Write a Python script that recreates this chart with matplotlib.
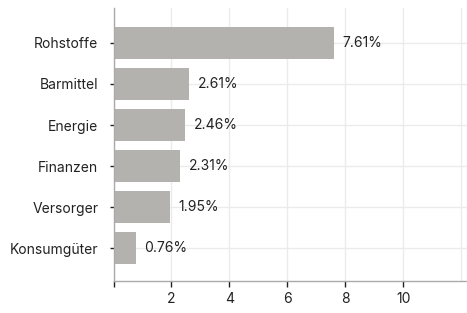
import matplotlib.pyplot as plt
import numpy as np

plt.rcParams['font.family'] = ['Inter', 'DejaVu Sans']

# ------------------ Daten ------------------
sektoren = ["Rohstoffe", "Barmittel", "Energie", "Finanzen", "Versorger", "Konsumgüter"]
anteile = [7.61, 2.61, 2.46, 2.31, 1.95, 0.76]
beschriftung = ["7.61%", "2.61%", "2.46%", "2.31%", "1.95%", "0.76%"]
x_ticks = [0, 2, 4, 6, 8, 10]
x_tick_labels = ["", "2", "4", "6", "8", "10"]

fig = plt.figure(figsize=(4.67, 3.13), dpi=100)
ax = fig.add_axes([113.5 / 467, 32 / 313, (467 - 113.5) / 467, (305 - 32) / 313])

y = np.arange(len(sektoren))
ax.barh(y, anteile, height=0.78, color="#b3b2ae", zorder=2)
for yi, v, txt in zip(y, anteile, beschriftung):
    ax.text(v + 0.3, yi, txt, va="center", ha="left", fontsize=10, color="#222222")

ax.set_yticks(y)
ax.set_yticklabels(sektoren, fontsize=10, color="#222222")
ax.set_ylim(5.8, -0.85)

ax.set_xticks(x_ticks)
ax.set_xticklabels(x_tick_labels, fontsize=10, color="#222222")
ax.set_xticks([12], minor=True)
ax.set_xlim(0, 12.2)

ax.grid(True, which="both", color="#ebebeb", linewidth=1, zorder=0)
ax.tick_params(axis="both", which="major", length=4, width=1, color="#222222", pad=4)
ax.tick_params(axis="x", which="minor", length=0)
ax.tick_params(axis="y", length=3, pad=8)

for s in ["top", "right"]:
    ax.spines[s].set_visible(False)
for s in ["left", "bottom"]:
    ax.spines[s].set_color("#aaaaaa")
    ax.spines[s].set_linewidth(1)

fig.savefig("out.png", dpi=100)
